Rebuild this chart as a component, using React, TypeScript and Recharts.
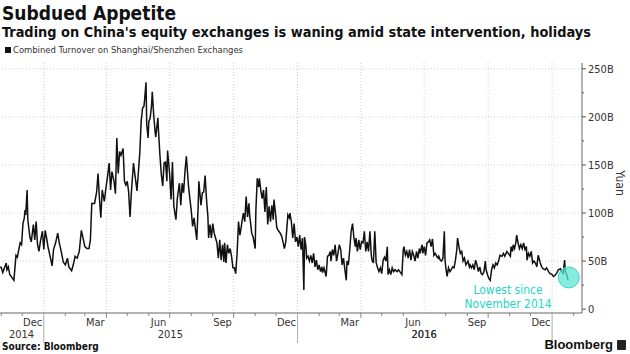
import React from 'react';
import { LineChart, Line, XAxis, YAxis, ReferenceLine, ReferenceDot } from 'recharts';

// Combined turnover on Shanghai/Shenzhen exchanges, billions of yuan
const dates: string[] = [
  '2014-10-30','2014-11-01','2014-11-03','2014-11-06','2014-11-08','2014-11-09','2014-11-11','2014-11-13','2014-11-16','2014-11-19',
  '2014-11-22','2014-11-24','2014-11-26','2014-11-28','2014-11-30','2014-12-02','2014-12-04','2014-12-05','2014-12-06','2014-12-08',
  '2014-12-09','2014-12-12','2014-12-14','2014-12-17','2014-12-19','2014-12-21','2014-12-23','2014-12-25','2014-12-27','2014-12-30',
  '2015-01-01','2015-01-03','2015-01-05','2015-01-07','2015-01-10','2015-01-13','2015-01-15','2015-01-18','2015-01-21','2015-01-23',
  '2015-01-26','2015-01-29','2015-02-01','2015-02-04','2015-02-06','2015-02-10','2015-02-13','2015-02-15','2015-02-18','2015-02-21',
  '2015-02-24','2015-02-27','2015-03-01','2015-03-04','2015-03-07','2015-03-09','2015-03-11','2015-03-14','2015-03-15','2015-03-18',
  '2015-03-20','2015-03-22','2015-03-24','2015-03-26','2015-03-29','2015-03-31','2015-04-03','2015-04-05','2015-04-07','2015-04-09',
  '2015-04-12','2015-04-14','2015-04-16','2015-04-18','2015-04-20','2015-04-22','2015-04-25','2015-04-27','2015-04-29','2015-05-01',
  '2015-05-03','2015-05-05','2015-05-07','2015-05-10','2015-05-12','2015-05-15','2015-05-18','2015-05-19','2015-05-21','2015-05-23',
  '2015-05-25','2015-05-26','2015-05-28','2015-05-29','2015-05-31','2015-06-01','2015-06-03','2015-06-05','2015-06-06','2015-06-08',
  '2015-06-10','2015-06-11','2015-06-14','2015-06-15','2015-06-17','2015-06-19','2015-06-21','2015-06-23','2015-06-25','2015-06-27',
  '2015-06-28','2015-07-01','2015-07-03','2015-07-05','2015-07-07','2015-07-10','2015-07-12','2015-07-15','2015-07-17','2015-07-19',
  '2015-07-21','2015-07-23','2015-07-25','2015-07-28','2015-07-30','2015-08-01','2015-08-03','2015-08-05','2015-08-09','2015-08-11',
  '2015-08-12','2015-08-15','2015-08-17','2015-08-19','2015-08-21','2015-08-23','2015-08-25','2015-08-26','2015-08-28','2015-08-30',
  '2015-09-01','2015-09-03','2015-09-05','2015-09-07','2015-09-09','2015-09-11','2015-09-13','2015-09-15','2015-09-17','2015-09-18',
  '2015-09-20','2015-09-22','2015-09-24','2015-09-26','2015-09-28','2015-09-30','2015-10-02','2015-10-04','2015-10-06','2015-10-08',
  '2015-10-10','2015-10-11','2015-10-13','2015-10-15','2015-10-17','2015-10-19','2015-10-21','2015-10-23','2015-10-24','2015-10-27',
  '2015-10-29','2015-11-01','2015-11-02','2015-11-04','2015-11-06','2015-11-07','2015-11-09','2015-11-11','2015-11-13','2015-11-15',
  '2015-11-17','2015-11-19','2015-11-21','2015-11-23','2015-11-25','2015-11-27','2015-11-28','2015-11-30','2015-12-02','2015-12-04',
  '2015-12-07','2015-12-09','2015-12-11','2015-12-13','2015-12-15','2015-12-18','2015-12-20','2015-12-21','2015-12-23','2015-12-25',
  '2015-12-27','2015-12-29','2015-12-31','2016-01-02','2016-01-04','2016-01-06','2016-01-08','2016-01-10','2016-01-11','2016-01-13',
  '2016-01-14','2016-01-16','2016-01-18','2016-01-20','2016-01-22','2016-01-24','2016-01-26','2016-01-28','2016-01-30','2016-02-01',
  '2016-02-03','2016-02-05','2016-02-06','2016-02-08','2016-02-11','2016-02-13','2016-02-15','2016-02-17','2016-02-18','2016-02-20',
  '2016-02-22','2016-02-24','2016-02-26','2016-02-28','2016-03-01','2016-03-03','2016-03-05','2016-03-07','2016-03-09','2016-03-11',
  '2016-03-12','2016-03-14','2016-03-16','2016-03-18','2016-03-20','2016-03-22','2016-03-24','2016-03-25','2016-03-27','2016-03-29',
  '2016-03-31','2016-04-02','2016-04-04','2016-04-06','2016-04-08','2016-04-10','2016-04-12','2016-04-14','2016-04-16','2016-04-17',
  '2016-04-19','2016-04-21','2016-04-23','2016-04-25','2016-04-27','2016-04-29','2016-05-01','2016-05-03','2016-05-05','2016-05-07',
  '2016-05-09','2016-05-10','2016-05-12','2016-05-14','2016-05-16','2016-05-18','2016-05-20','2016-05-23','2016-05-25','2016-05-27',
  '2016-05-30','2016-06-01','2016-06-02','2016-06-04','2016-06-06','2016-06-08','2016-06-10','2016-06-12','2016-06-14','2016-06-16',
  '2016-06-18','2016-06-20','2016-06-22','2016-06-24','2016-06-25','2016-06-28','2016-06-29','2016-07-01','2016-07-03','2016-07-05',
  '2016-07-07','2016-07-09','2016-07-11','2016-07-13','2016-07-15','2016-07-17','2016-07-19','2016-07-21','2016-07-22','2016-07-24',
  '2016-07-26','2016-07-28','2016-07-30','2016-07-31','2016-08-01','2016-08-03','2016-08-05','2016-08-07','2016-08-09','2016-08-11',
  '2016-08-13','2016-08-15','2016-08-17','2016-08-18','2016-08-20','2016-08-22','2016-08-24','2016-08-26','2016-08-28','2016-08-30',
  '2016-09-02','2016-09-04','2016-09-05','2016-09-07','2016-09-09','2016-09-11','2016-09-13','2016-09-15','2016-09-17','2016-09-19',
  '2016-09-21','2016-09-23','2016-09-25','2016-09-27','2016-09-28','2016-09-30','2016-10-02','2016-10-04','2016-10-06','2016-10-08',
  '2016-10-10','2016-10-12','2016-10-14','2016-10-16','2016-10-18','2016-10-21','2016-10-23','2016-10-25','2016-10-28','2016-10-30',
  '2016-11-02','2016-11-03','2016-11-05','2016-11-06','2016-11-08','2016-11-10','2016-11-11','2016-11-13','2016-11-15','2016-11-17',
  '2016-11-19','2016-11-21','2016-11-23','2016-11-25','2016-11-26','2016-11-28','2016-11-30','2016-12-02','2016-12-04','2016-12-06',
  '2016-12-08','2016-12-10','2016-12-12','2016-12-15','2016-12-17','2016-12-19','2016-12-22','2016-12-24','2016-12-27','2016-12-29',
  '2017-01-01','2017-01-03','2017-01-05','2017-01-08','2017-01-10','2017-01-13','2017-01-15','2017-01-17','2017-01-19','2017-01-20',
  '2017-01-22','2017-01-24',
];

const turnover: number[] = [
  44, 43, 38, 44, 48, 41, 44, 36, 33, 30,
  56, 54, 62, 69, 67, 89, 95, 103, 98, 124,
  93, 75, 70, 88, 72, 91, 67, 60, 70, 81,
  62, 82, 74, 65, 55, 45, 62, 69, 79, 70,
  60, 49, 46, 53, 44, 40, 48, 55, 53, 60,
  82, 72, 65, 63, 63, 72, 110, 110, 110, 122,
  141, 115, 95, 124, 112, 124, 140, 152, 124, 143,
  133, 120, 178, 141, 164, 160, 167, 133, 129, 133,
  122, 96, 122, 152, 140, 123, 152, 162, 195, 209,
  211, 218, 236, 192, 178, 195, 199, 212, 226, 202,
  185, 179, 199, 185, 160, 140, 128, 152, 153, 133,
  165, 140, 114, 153, 107, 93, 115, 131, 108, 131,
  121, 143, 159, 129, 115, 103, 86, 95, 72, 107,
  133, 108, 121, 122, 139, 114, 96, 74, 88, 74,
  89, 79, 74, 69, 53, 72, 51, 67, 49, 69,
  48, 67, 58, 63, 55, 43, 43, 37, 58, 91,
  77, 81, 91, 100, 91, 117, 96, 110, 98, 79,
  75, 63, 103, 136, 127, 136, 124, 115, 124, 101,
  127, 88, 107, 91, 108, 93, 114, 101, 85, 82,
  79, 76, 70, 63, 70, 98, 95, 100, 91, 74,
  89, 70, 75, 65, 77, 62, 74, 20, 75, 65,
  53, 55, 50, 56, 48, 58, 44, 51, 41, 46,
  39, 44, 38, 43, 34, 55, 56, 60, 50, 62,
  56, 67, 50, 58, 67, 62, 46, 53, 41, 30,
  50, 46, 62, 81, 89, 74, 65, 74, 60, 72,
  62, 70, 69, 81, 60, 70, 60, 81, 56, 51,
  48, 81, 48, 43, 39, 43, 37, 51, 54, 50,
  65, 36, 41, 36, 43, 39, 41, 39, 41, 39,
  36, 62, 65, 56, 60, 53, 62, 51, 60, 56,
  50, 60, 53, 63, 58, 67, 58, 65, 56, 69,
  70, 72, 65, 73, 56, 58, 55, 53, 55, 51,
  50, 53, 81, 51, 44, 34, 43, 39, 41, 44,
  43, 51, 62, 74, 65, 58, 60, 50, 53, 46,
  50, 44, 46, 43, 46, 41, 51, 46, 39, 44,
  37, 36, 39, 50, 41, 36, 32, 30, 41, 46,
  43, 48, 46, 50, 56, 55, 58, 55, 60, 58,
  55, 65, 60, 67, 63, 70, 77, 69, 63, 67,
  63, 69, 62, 65, 51, 58, 55, 60, 48, 50,
  48, 44, 56, 48, 44, 42, 41, 43, 39, 37,
  36, 34, 35, 38, 41, 42, 39, 37, 51, 39,
  36, 30,
];

// Axis definitions
const xDomain = ['2014-10-30', '2017-02-13'];
const monthStarts = [
  '2014-11-01','2014-12-01','2015-01-01','2015-02-01','2015-03-01','2015-04-01','2015-05-01','2015-06-01','2015-07-01',
  '2015-08-01','2015-09-01','2015-10-01','2015-11-01','2015-12-01','2016-01-01','2016-02-01','2016-03-01','2016-04-01',
  '2016-05-01','2016-06-01','2016-07-01','2016-08-01','2016-09-01','2016-10-01','2016-11-01','2016-12-01','2017-01-01','2017-02-01',
];
const quarterStarts = ['2015-01-01','2015-04-01','2015-07-01','2015-10-01','2016-01-01','2016-04-01','2016-07-01','2016-10-01','2017-01-01'];
const yearStarts = ['2015-01-01', '2016-01-01', '2017-01-01'];
const monthLabelDates = ['2014-12-16','2015-03-16','2015-06-15','2015-09-15','2015-12-16','2016-03-16','2016-06-15','2016-09-15','2016-12-16'];
const monthLabelNames = ['Dec','Mar','Jun','Sep','Dec','Mar','Jun','Sep','Dec'];
const yearLabelDates = ['2014-11-30', '2015-07-02', '2016-07-01'];
const yearLabelNames = ['2014', '2015', '2016'];
const yTicks = [0, 25, 50, 75, 100, 125, 150, 175, 200, 225, 250];
const yGrid = [50, 100, 150, 200, 250];
const lowPoint = { date: '2017-01-25', value: 33 };

const ts = (s: string) => Date.parse(s);
const data = dates.map((d, i) => ({ t: ts(d), v: turnover[i] }));
const xTicks = [...monthStarts, ...monthLabelDates, ...yearLabelDates].map(ts).sort((a, b) => a - b);

const FONT = "'DejaVu Sans Condensed', 'DejaVu Sans', sans-serif";
const TURQ = '#22d8c4';

const XTick = (props: any) => {
  const { x, y, payload } = props;
  const s = new Date(payload.value).toISOString().slice(0, 10);
  const mi = monthLabelDates.indexOf(s);
  if (mi >= 0) {
    return (
      <text x={x} y={y + 13} textAnchor="middle" fontSize={11} fill="#333" fontFamily={FONT}>
        {monthLabelNames[mi]}
      </text>
    );
  }
  const yi = yearLabelDates.indexOf(s);
  if (yi >= 0) {
    return (
      <text x={x} y={y + 25} textAnchor="middle" fontSize={11} fill="#333" fontFamily={FONT}>
        {yearLabelNames[yi]}
      </text>
    );
  }
  if (yearStarts.includes(s)) {
    return <line x1={x} x2={x} y1={y} y2={y + 30} stroke="#aaa" strokeWidth={1} />;
  }
  const q = quarterStarts.includes(s);
  return <line x1={x} x2={x} y1={y} y2={y + (q ? 5 : 3)} stroke="#888" strokeWidth={1} />;
};

const YTick = (props: any) => {
  const { x, y, payload } = props;
  const v = payload.value;
  const major = v % 50 === 0;
  return (
    <g>
      <line x1={x} x2={x + (major ? 4 : 2)} y1={y} y2={y} stroke="#555" strokeWidth={1} />
      {major && (
        <text x={x + 6} y={y + 4} fontSize={11} fill="#333" fontFamily={FONT}>
          {v === 0 ? '0' : `${v}B`}
        </text>
      )}
    </g>
  );
};

export default function App() {
  return (
    <div style={{ position: 'absolute', left: 0, top: 0, width: 630, height: 354, background: '#fff', overflow: 'hidden' }}>
      <div style={{ position: 'absolute', left: 2, top: 1, fontFamily: FONT, fontWeight: 'bold', fontSize: 19, color: '#111', lineHeight: '24px', whiteSpace: 'nowrap' }}>
        Subdued Appetite
      </div>
      <div style={{ position: 'absolute', left: 2, top: 23, fontFamily: FONT, fontWeight: 'bold', fontSize: 14.4, color: '#111', lineHeight: '18px', whiteSpace: 'nowrap' }}>
        Trading on China's equity exchanges is waning amid state intervention, holidays
      </div>
      <div style={{ position: 'absolute', left: 5, top: 44, fontFamily: FONT, fontSize: 9.4, color: '#333', lineHeight: '12px', whiteSpace: 'nowrap', display: 'flex', alignItems: 'center' }}>
        <span style={{ display: 'inline-block', width: 6, height: 6, background: '#111', marginRight: 2 }} />
        Combined Turnover on Shanghai/Shenzhen Exchanges
      </div>
      <LineChart width={630} height={354} data={data} margin={{ top: 63, right: 0, bottom: 0, left: 0 }} style={{ position: 'absolute', left: 0, top: 0 }}>
        <XAxis
          dataKey="t"
          type="number"
          scale="linear"
          domain={[ts(xDomain[0]), ts(xDomain[1])]}
          allowDataOverflow
          ticks={xTicks}
          interval={0}
          tick={XTick}
          tickLine={false}
          tickSize={0}
          tickMargin={0}
          height={41}
          axisLine={{ stroke: '#666', strokeWidth: 1 }}
        />
        <YAxis
          orientation="right"
          type="number"
          domain={[-4, 256]}
          allowDataOverflow
          ticks={yTicks}
          interval={0}
          tick={YTick}
          tickLine={false}
          tickSize={0}
          tickMargin={0}
          width={48}
          axisLine={{ stroke: '#666', strokeWidth: 1 }}
        />
        {yGrid.map((g) => (
          <ReferenceLine key={`h${g}`} y={g} stroke="#cfcfcf" strokeDasharray="1 2" />
        ))}
        {quarterStarts.map((q) => (
          <ReferenceLine key={`v${q}`} x={ts(q)} stroke="#cfcfcf" strokeDasharray="1 2" />
        ))}
        <Line type="linear" dataKey="v" stroke="#111" strokeWidth={1.5} dot={false} isAnimationActive={false} />
        <ReferenceDot x={ts(lowPoint.date)} y={lowPoint.value} r={10.5} fill="#5fe6d6" fillOpacity={0.75} stroke="#3fd6c4" strokeWidth={1} />
      </LineChart>
      <div style={{ position: 'absolute', left: 620, top: 183, transform: 'translate(-50%, -50%) rotate(90deg)', fontFamily: FONT, fontSize: 12, color: '#333', whiteSpace: 'nowrap' }}>
        Yuan
      </div>
      <div style={{ position: 'absolute', left: 508, top: 283, transform: 'translateX(-50%)', fontFamily: FONT, fontSize: 12, color: TURQ, lineHeight: '14px', textAlign: 'center', whiteSpace: 'nowrap' }}>
        Lowest since<br />November 2014
      </div>
      <div style={{ position: 'absolute', left: 2, top: 340, fontFamily: FONT, fontWeight: 'bold', fontSize: 10, color: '#111', lineHeight: '13px', whiteSpace: 'nowrap' }}>
        Source: Bloomberg
      </div>
      <div style={{ position: 'absolute', right: 4, top: 337, fontFamily: "'Liberation Sans', Arial, sans-serif", fontWeight: 'bold', fontSize: 13, color: '#111', lineHeight: '16px', whiteSpace: 'nowrap', display: 'flex', alignItems: 'center' }}>
        Bloomberg
        <span style={{ display: 'inline-block', width: 9, height: 10, background: '#222', marginLeft: 4, borderRadius: 1 }} />
      </div>
    </div>
  );
}
